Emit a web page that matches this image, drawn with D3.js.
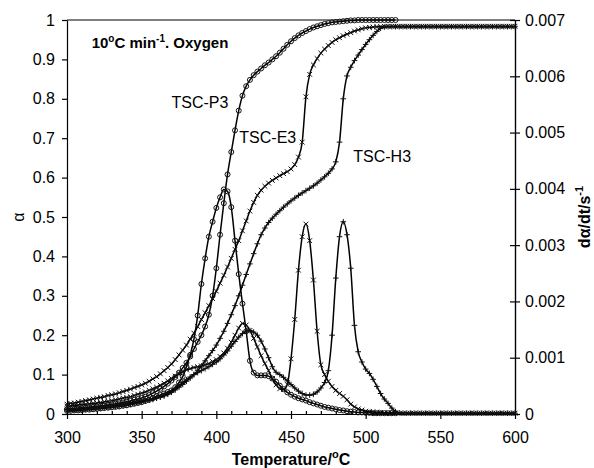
<!DOCTYPE html>
<html>
<head>
<meta charset="utf-8">
<script src="https://cdn.jsdelivr.net/npm/d3@7"></script>
<style>
  body { margin: 0; background: #fff; }
  text { font-family: "Liberation Sans", Arial, sans-serif; fill: #000; }
</style>
</head>
<body>
<script>
//temperature grid of the TG runs, degC (2.5 degC steps)
var temps = d3.range(300, 601, 2.5);

//conversion alpha
var p3Alpha = [
  .012,.013,.013,.014,.015,.016,.017,.018,.019,.020,
  .021,.023,.024,.026,.027,.029,.031,.033,.036,.038,
  .041,.044,.048,.053,.058,.064,.070,.077,.085,.094,
  .105,.117,.130,.146,.165,.183,.200,.222,.252,.300,
  .370,.455,.535,.608,.665,.720,.770,.808,.832,.848,
  .860,.869,.877,.885,.892,.900,.908,.917,.927,.937,
  .946,.954,.961,.967,.972,.977,.981,.984,.987,.990,
  .992,.994,.995,.996,.997,.998,.999,.999,1,1,
  1,1,1,1,1,1,1,1,1];
var e3Alpha = [
  .025,.027,.028,.030,.032,.034,.036,.038,.040,.042,
  .044,.047,.049,.051,.054,.057,.060,.063,.067,.070,
  .074,.078,.083,.089,.095,.102,.110,.118,.127,.138,
  .150,.162,.175,.190,.205,.222,.240,.257,.275,.293,
  .312,.332,.352,.373,.395,.418,.440,.465,.490,.515,
  .537,.555,.568,.578,.586,.593,.599,.605,.610,.615,
  .622,.633,.652,.690,.805,.862,.886,.902,.916,.926,
  .935,.943,.950,.955,.960,.964,.968,.972,.975,.978,
  .980,.981,.982,.983,.983,.984,.984,.984,.984,.984,
  .984,.984,.984,.984,.984,.984,.984,.984,.984,.984,
  .984,.984,.984,.984,.984,.984,.984,.984,.984,.984,
  .984,.984,.984,.984,.984,.984,.984,.984,.984,.984,
  .984];
var h3Alpha = [
  .012,.013,.013,.014,.015,.016,.016,.017,.018,.019,
  .020,.021,.022,.023,.024,.026,.027,.028,.030,.031,
  .033,.035,.037,.039,.041,.043,.046,.050,.055,.061,
  .068,.075,.083,.091,.100,.110,.122,.135,.148,.161,
  .175,.192,.210,.230,.252,.275,.300,.327,.354,.381,
  .407,.432,.455,.472,.486,.497,.507,.516,.525,.533,
  .541,.548,.555,.561,.567,.573,.579,.586,.594,.602,
  .611,.622,.640,.690,.800,.858,.880,.897,.911,.925,
  .938,.950,.961,.971,.979,.982,.983,.983,.983,.983,
  .983,.983,.983,.983,.983,.983,.983,.983,.983,.983,
  .983,.983,.983,.983,.983,.983,.983,.983,.983,.983,
  .983,.983,.983,.983,.983,.983,.983,.983,.983,.983,
  .983];

//rate d(alpha)/dt in units of 1e-3 s-1
var p3Rate = [
  .056,.056,.063,.063,.070,.077,.077,.084,.091,.098,
  .105,.112,.119,.126,.133,.147,.154,.168,.182,.196,
  .210,.231,.252,.280,.315,.336,.364,.392,.420,.476,
  .560,.665,.840,1.050,1.330,1.750,2.310,2.765,3.150,3.416,
  3.661,3.850,3.990,3.955,3.675,3.080,2.485,1.960,1.470,.945,
  .735,.686,.686,.686,.672,.630,.574,.504,.441,.385,
  .343,.308,.280,.259,.238,.210,.189,.168,.147,.126,
  .112,.098,.084,.070,.063,.049,.042,.035,.028,.028,
  .021,.021,.014,.014,.014,.014,.014,.014,.014];
var e3Rate = [
  .140,.147,.154,.161,.168,.175,.182,.189,.196,.203,
  .217,.224,.238,.252,.266,.280,.294,.308,.329,.350,
  .371,.392,.420,.448,.476,.511,.546,.588,.630,.672,
  .714,.749,.784,.805,.826,.840,.854,.875,.896,.931,
  .966,1.022,1.085,1.169,1.274,1.400,1.526,1.610,1.582,1.484,
  1.344,1.190,1.036,.896,.770,.630,.518,.448,.434,.525,
  .980,1.680,2.555,3.150,3.374,3.080,2.380,1.470,.875,.700,
  .581,.490,.420,.364,.315,.252,.175,.126,.091,.070,
  .049,.042,.035,.028,.028,.021,.021,.021,.021,.014,
  .014,.014,.014,.014,.014,.014,.014,.014,.014,.014,
  .014,.014,.014,.014,.014,.014,.014,.014,.014,.014,
  .014,.014,.014,.014,.014,.014,.014,.014,.014,.014,
  .014];
var h3Rate = [
  .070,.070,.077,.077,.084,.084,.091,.091,.098,.105,
  .112,.119,.126,.133,.140,.147,.161,.175,.189,.203,
  .217,.231,.245,.259,.280,.301,.329,.364,.406,.455,
  .504,.560,.609,.658,.700,.735,.770,.805,.840,.882,
  .924,.980,1.050,1.120,1.204,1.288,1.365,1.428,1.470,1.484,
  1.456,1.400,1.295,1.155,1.001,.840,.742,.700,.651,.588,
  .525,.462,.406,.364,.336,.336,.350,.392,.462,.560,
  .770,1.400,2.415,3.150,3.416,3.185,2.590,1.575,1.106,.924,
  .798,.721,.616,.490,.364,.266,.189,.105,.042,.021,
  .014,.014,.014,.014,.014,.014,.014,.014,.014,.014,
  .014,.014,.014,.014,.014,.014,.014,.014,.014,.014,
  .014,.014,.014,.014,.014,.014,.014,.014,.014,.014,
  .014];

//axis ticks
var xMajor = [300, 350, 400, 450, 500, 550, 600];
var xMinor = d3.range(300, 601, 10);
var alphaTicks = [0, .1, .2, .3, .4, .5, .6, .7, .8, .9, 1];
var alphaLabels = ["0","0.1","0.2","0.3","0.4","0.5","0.6","0.7","0.8","0.9","1"];
var rateTicks = [0, 1, 2, 3, 4, 5, 6, 7];
var rateLabels = ["0","0.001","0.002","0.003","0.004","0.005","0.006","0.007"];

//sample names and where their labels sit (temperature, alpha)
var sampleNames = ["TSC-P3", "TSC-E3", "TSC-H3"];
var labelSpots = [[370, .777], [415.4, .688], [491.7, .640]];

var width = 594, height = 468;
var plot = {left: 67, right: 515, top: 20, bottom: 414};

var svg = d3.select("body").append("svg")
    .attr("width", width)
    .attr("height", height);

var x = d3.scaleLinear().domain([300, 600]).range([plot.left, plot.right]);
var yL = d3.scaleLinear().domain([0, 1]).range([plot.bottom, plot.top]);
var yR = d3.scaleLinear().domain([0, 7]).range([plot.bottom, plot.top]);

//top frame line
svg.append("line")
    .attr("x1", plot.left).attr("x2", plot.right)
    .attr("y1", plot.top).attr("y2", plot.top)
    .attr("stroke", "#000").attr("stroke-width", 1);

//bottom axis: minor ticks inside, major ticks crossing
svg.append("g")
    .attr("transform", "translate(0," + plot.bottom + ")")
    .call(d3.axisBottom(x).tickValues(xMinor).tickSize(-3).tickSizeOuter(0).tickFormat(""));
svg.append("g")
    .attr("class", "xaxis")
    .attr("transform", "translate(0," + plot.bottom + ")")
    .call(d3.axisBottom(x).tickValues(xMajor).tickSize(5).tickSizeOuter(0).tickPadding(13).tickFormat(d3.format("d")));

//left axis
svg.append("g")
    .attr("transform", "translate(" + plot.left + ",0)")
    .call(d3.axisLeft(yL).tickValues(alphaTicks).tickSize(5).tickSizeOuter(0).tickPadding(7)
        .tickFormat(function(d, i){ return alphaLabels[i]; }));

//right axis, ticks crossing the line
svg.append("g")
    .attr("transform", "translate(" + plot.right + ",0)")
    .call(d3.axisRight(yR).tickValues(rateTicks).tickSize(-5).tickSizeOuter(0).tickFormat(""));
svg.append("g")
    .attr("transform", "translate(" + plot.right + ",0)")
    .call(d3.axisRight(yR).tickValues(rateTicks).tickSize(5).tickSizeOuter(0).tickPadding(5)
        .tickFormat(function(d, i){ return rateLabels[i]; }));

svg.selectAll(".tick text").style("font-size", "16px").style("font-family", '"Liberation Sans", Arial, sans-serif');
svg.selectAll(".domain, .tick line").attr("stroke", "#000").attr("stroke-width", 1.2);

//curves
var lineAlpha = d3.line()
    .x(function(d, i){ return x(temps[i]); })
    .y(function(d){ return yL(d); })
    .curve(d3.curveMonotoneX);
var lineRate = d3.line()
    .x(function(d, i){ return x(temps[i]); })
    .y(function(d){ return yR(d); })
    .curve(d3.curveMonotoneX);

var series = [
    {values: p3Alpha, y: yL, line: lineAlpha, mark: "circle"},
    {values: p3Rate,  y: yR, line: lineRate,  mark: "circle"},
    {values: e3Alpha, y: yL, line: lineAlpha, mark: "cross"},
    {values: e3Rate,  y: yR, line: lineRate,  mark: "cross"},
    {values: h3Alpha, y: yL, line: lineAlpha, mark: "plus"},
    {values: h3Rate,  y: yR, line: lineRate,  mark: "plus"}
];

var markShapes = {
    cross: "M-2.4,-2.4L2.4,2.4M-2.4,2.4L2.4,-2.4",
    plus: "M-2.8,0H2.8M0,-2.8V2.8"
};

series.forEach(function(s){
    var g = svg.append("g");

    g.append("path")
        .attr("d", s.line(s.values))
        .attr("fill", "none")
        .attr("stroke", "#000")
        .attr("stroke-width", 1.5);

    if (s.mark == "circle"){
        g.selectAll("circle")
            .data(s.values)
            .enter()
            .append("circle")
            .attr("cx", function(d, i){ return x(temps[i]); })
            .attr("cy", function(d){ return s.y(d); })
            .attr("r", 2.5)
            .attr("fill", "none")
            .attr("stroke", "#111")
            .attr("stroke-width", 1);
    } else {
        g.selectAll(".mk")
            .data(s.values)
            .enter()
            .append("path")
            .attr("class", "mk")
            .attr("d", markShapes[s.mark])
            .attr("transform", function(d, i){ return "translate(" + x(temps[i]) + "," + s.y(d) + ")"; })
            .attr("fill", "none")
            .attr("stroke", "#111")
            .attr("stroke-width", 1);
    }
});

//sample labels
svg.selectAll(".sample")
    .data(sampleNames)
    .enter()
    .append("text")
    .attr("class", "sample")
    .attr("x", function(d, i){ return x(labelSpots[i][0]); })
    .attr("y", function(d, i){ return yL(labelSpots[i][1]); })
    .style("font-size", "16px")
    .text(function(d){ return d; });

//heating rate / atmosphere note
var note = svg.append("text")
    .attr("x", x(316.5))
    .attr("y", yL(.929))
    .style("font-size", "15px")
    .style("font-weight", "bold");
note.append("tspan").text("10");
note.append("tspan").attr("dy", -6).style("font-size", "10px").text("o");
note.append("tspan").attr("dy", 6).text("C min");
note.append("tspan").attr("dy", -6).style("font-size", "10px").text("-1");
note.append("tspan").attr("dy", 6).text(". Oxygen");

//x axis title
var xt = svg.append("text")
    .attr("x", (plot.left + plot.right) / 2)
    .attr("y", 465)
    .attr("text-anchor", "middle")
    .style("font-size", "16px")
    .style("font-weight", "bold");
xt.append("tspan").text("Temperature/");
xt.append("tspan").attr("dy", -7).style("font-size", "11px").text("o");
xt.append("tspan").attr("dy", 7).text("C");

//left axis title
svg.append("text")
    .attr("transform", "translate(24," + (plot.top + plot.bottom) / 2 + ") rotate(-90)")
    .attr("text-anchor", "middle")
    .style("font-size", "16px")
    .text("\u03b1");

//right axis title
var yt = svg.append("text")
    .attr("transform", "translate(590," + (plot.top + plot.bottom) / 2 + ") rotate(-90)")
    .attr("text-anchor", "middle")
    .style("font-size", "16px")
    .style("font-weight", "bold");
yt.append("tspan").text("d\u03b1/dt/s");
yt.append("tspan").attr("dy", -7).style("font-size", "11px").text("-1");
</script>
</body>
</html>
